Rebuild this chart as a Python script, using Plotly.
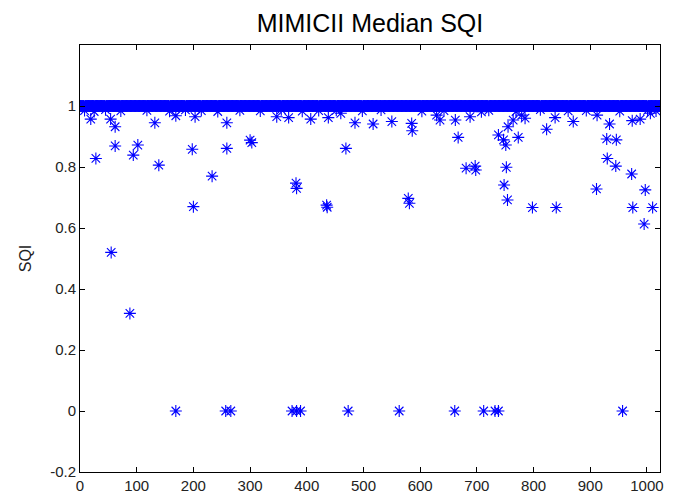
import plotly.graph_objects as go

# --- data ---------------------------------------------------------------
n_records = 1023
record_ids = list(range(1, n_records + 1))

# records whose median SQI is not ~1
outlier_ids = [
    19, 28, 54, 55, 62, 62, 88, 94, 102, 132, 139, 169, 169, 198, 200, 203,
    233, 257, 259, 259, 266, 300, 303, 347, 368, 374, 381, 382, 382, 389,
    407, 435, 436, 438, 460, 469, 473, 485, 517, 550, 563, 579, 581, 585,
    586, 629, 635, 661, 662, 667, 681, 688, 697, 698, 708, 712, 732, 738,
    738, 747, 748, 751, 752, 754, 755, 764, 773, 779, 785, 798, 823, 838,
    840, 870, 911, 912, 929, 930, 934, 945, 946, 957, 973, 974, 975, 988,
    995, 997, 1006, 1010,
]
outlier_sqi = [
    0.957, 0.828, 0.957, 0.520, 0.932, 0.869, 0.320, 0.839, 0.872, 0.945,
    0.806, 0.968, 0.0, 0.858, 0.670, 0.965, 0.770, 0.0, 0.945, 0.861, 0.0,
    0.888, 0.880, 0.965, 0.962, 0.0, 0.747, 0.730, 0.0, 0.0, 0.957, 0.675,
    0.668, 0.962, 0.976, 0.861, 0.0, 0.945, 0.941, 0.949, 0.0, 0.697,
    0.681, 0.943, 0.919, 0.970, 0.954, 0.0, 0.954, 0.897, 0.796, 0.965,
    0.803, 0.790, 0.981, 0.0, 0.0, 0.905, 0.0, 0.889, 0.741, 0.872, 0.799,
    0.692, 0.932, 0.954, 0.897, 0.970, 0.960, 0.667, 0.924, 0.962, 0.667,
    0.949, 0.728, 0.970, 0.892, 0.828, 0.941, 0.803, 0.889, 0.0, 0.777,
    0.952, 0.667, 0.957, 0.613, 0.725, 0.976, 0.667,
]

# records slightly under 1 (fuzzy underside of the band)
near_one_ids = [8, 25, 45, 72, 118, 158, 186, 214, 243, 282, 318, 355,
                392, 421, 452, 498, 531, 603, 642, 721, 769, 812, 861,
                893, 952, 1001, 1016]
near_one_sqi = [0.985, 0.982, 0.988, 0.984, 0.986, 0.983, 0.987, 0.985,
                0.982, 0.986, 0.984, 0.988, 0.983, 0.985, 0.986, 0.984,
                0.987, 0.983, 0.985, 0.986, 0.982, 0.988, 0.984, 0.985,
                0.983, 0.986, 0.984]

sqi = [1.0] * n_records
for rid, v in zip(near_one_ids, near_one_sqi):
    sqi[rid - 1] = v

x_ticks = [0, 100, 200, 300, 400, 500, 600, 700, 800, 900, 1000]
y_ticks = [-0.2, 0, 0.2, 0.4, 0.6, 0.8, 1]
y_tick_labels = ["-0.2", "0", "0.2", "0.4", "0.6", "0.8", "1"]

# --- figure -------------------------------------------------------------
blue = "#0000FF"
marker = dict(symbol="asterisk-open", size=10,
              line=dict(color=blue, width=1.1), color=blue)

fig = go.Figure()
fig.add_trace(go.Scatter(x=record_ids, y=sqi, mode="markers",
                         marker=marker, hoverinfo="x+y", showlegend=False))
fig.add_trace(go.Scatter(x=outlier_ids, y=outlier_sqi, mode="markers",
                         marker=marker, hoverinfo="x+y", showlegend=False))

font_family = "Liberation Sans, Arial, sans-serif"
axis_common = dict(showline=True, linecolor="black", linewidth=1,
                   mirror="allticks", ticks="inside", ticklen=5,
                   tickcolor="black", showgrid=False, zeroline=False,
                   automargin=False,
                   tickfont=dict(family=font_family, size=15,
                                 color="#222222"))

fig.update_layout(
    width=677, height=493,
    margin=dict(l=80, r=17, t=45, b=21),
    paper_bgcolor="white", plot_bgcolor="white",
    title=dict(text="MIMICII Median SQI", x=370 / 677, xanchor="center",
               y=1 - 23 / 493, yanchor="middle",
               font=dict(family=font_family, size=25, color="black")),
    xaxis=dict(range=[0, 1023], tickvals=x_ticks, **axis_common),
    yaxis=dict(range=[-0.2, 1.2], tickvals=y_ticks, ticktext=y_tick_labels,
               title=dict(text="SQI", standoff=14,
                          font=dict(family=font_family, size=16,
                                    color="#222222")),
               **axis_common),
)

fig.write_html("out.html")
